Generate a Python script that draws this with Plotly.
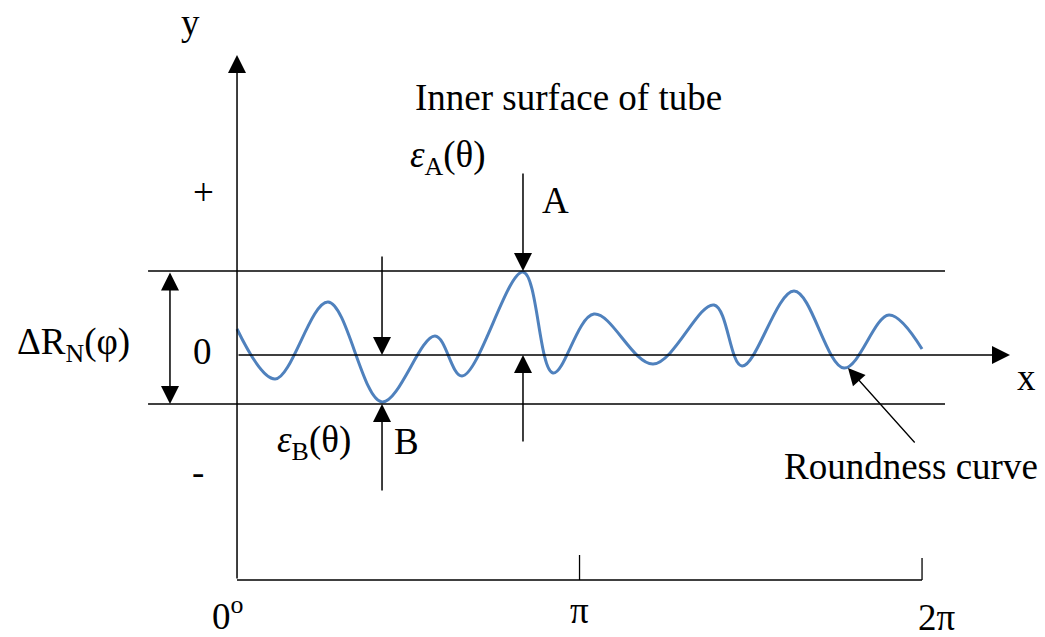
import math
import plotly.graph_objects as go

# Roundness profile of the tube's inner surface: angle (rad) vs radial deviation
angle = [0.000, 0.349, 0.835, 1.330, 1.816, 2.064, 2.623, 2.898, 3.274, 3.816,
         4.375, 4.632, 5.109, 5.568, 5.980, 6.283]
deviation = [2.6, -2.4, 5.3, -4.7, 1.9, -2.1, 8.3, -1.8, 4.1, -0.9,
             5.0, -1.1, 6.4, -1.3, 4.0, 0.6]

tick_values = [math.pi, 2 * math.pi]
tick_labels = ["0<sup>o</sup>", "π", "2π"]

FONT = "Liberation Serif, Times New Roman, serif"
FS = 37
INK = "black"

# extreme points A (peak) and B (valley) of the profile
i_a = deviation.index(max(deviation))
i_b = deviation.index(min(deviation))
xa, ya = angle[i_a], deviation[i_a]
xb, yb = angle[i_b], deviation[i_b]
band_top = ya + 0.1
band_bot = yb - 0.2

x_axis_end = 7.09
y_axis_top = 30.0
base_y = -22.5
band_left, band_right = -0.816, 6.494

fig = go.Figure()
fig.add_trace(go.Scatter(
    x=angle, y=deviation, mode="lines",
    line=dict(color="#4F81BD", width=3, shape="spline", smoothing=1.0),
    hoverinfo="skip", showlegend=False,
))

shapes = []


def seg(x0, y0, x1, y1, w=1.3):
    shapes.append(dict(type="line", xref="x", yref="y", x0=x0, y0=y0, x1=x1, y1=y1,
                       line=dict(color=INK, width=w)))


# band limits of the profile
seg(band_left, band_top, band_right, band_top)
seg(band_left, band_bot, band_right, band_bot)
# angular scale at the bottom
seg(0, base_y, 2 * math.pi, base_y)
seg(tick_values[0], base_y, tick_values[0], base_y + 2.5)
seg(tick_values[1], base_y, tick_values[1], base_y + 2.2)

annotations = []


def arrow(x, y, ax, ay, both=False, w=1.5, size=2.4):
    a = dict(x=x, y=y, ax=ax, ay=ay, xref="x", yref="y", axref="x", ayref="y",
             text="", showarrow=True, arrowhead=2, arrowsize=size, arrowwidth=w,
             arrowcolor=INK, standoff=0, startstandoff=0)
    if both:
        a.update(arrowside="end+start", startarrowhead=2, startarrowsize=size)
    annotations.append(a)


def label(x, y, text, size=FS):
    annotations.append(dict(x=x, y=y, xref="x", yref="y", text=text, showarrow=False,
                            font=dict(family=FONT, size=size, color=INK),
                            xanchor="center", yanchor="middle"))


# coordinate axes
arrow(0, y_axis_top, 0, base_y)
arrow(x_axis_end, 0, 0, 0)
# width of the deviation band
arrow(-0.615, band_bot, -0.615, band_top, both=True)
# deviations at A and B
arrow(xa, band_top, xa, 18.3)
arrow(xa, 0, xa, -8.8)
arrow(xb, 0, xb, 10.0)
arrow(xb, band_bot, xb, -13.7)
# pointer to the profile
arrow(5.604, -1.3, 6.228, -8.9, w=1.3, size=2.6)

label(-0.431, 33.3, "y")
label(-0.312, 16.3, "+")
label(-0.321, 0.4, "0")
label(-0.358, -11.7, "-")
label(7.237, -2.2, "x")
label(3.036, 25.8, "Inner surface of tube")
label(1.935, 19.8, "<i>ε</i><sub>A</sub>(θ)")
label(2.917, 15.5, "A")
label(-1.504, 1.1, "ΔR<sub>N</sub>(φ)")
label(0.706, -8.7, "<i>ε</i><sub>B</sub>(θ)")
label(1.550, -8.6, "B")
label(6.182, -11.1, "Roundness curve")
label(-0.083, -25.8, tick_labels[0])
label(tick_values[0], -25.5, tick_labels[1])
label(6.42, -26.2, tick_labels[2])

fig.update_layout(
    width=1045, height=637,
    margin=dict(l=0, r=0, t=0, b=0),
    paper_bgcolor="white", plot_bgcolor="white",
    xaxis=dict(range=[-2.174, 7.411], visible=False, fixedrange=True),
    yaxis=dict(range=[-28.2, 35.5], visible=False, fixedrange=True),
    shapes=shapes, annotations=annotations,
    showlegend=False,
)

fig.write_html("out.html")
